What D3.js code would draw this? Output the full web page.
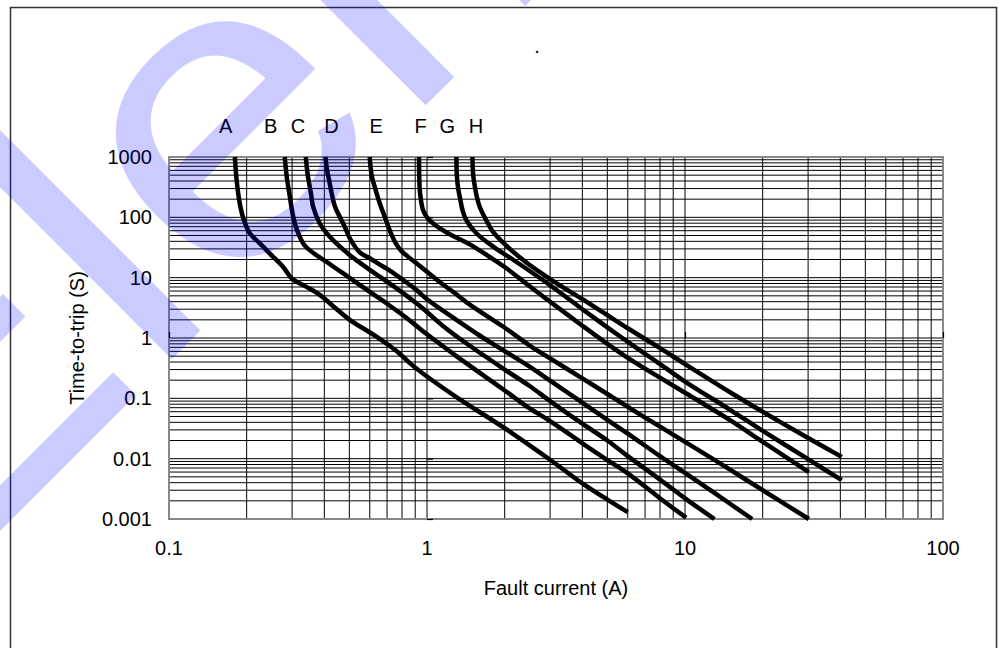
<!DOCTYPE html>
<html>
<head>
<meta charset="utf-8">
<script src="https://cdnjs.cloudflare.com/ajax/libs/d3/7.8.5/d3.min.js"></script>
<style>
  html, body { margin: 0; padding: 0; background: #fff; }
  svg { display: block; font-family: "Liberation Sans", Arial, sans-serif; }
</style>
</head>
<body>
<div id="chart"></div>
<script>
// curve names and [current (A), time (s)] readings
const curveNames = ['A', 'B', 'C', 'D', 'E', 'F', 'G', 'H'];

const curveA = [[0.180, 1000], [0.183, 400], [0.188, 171], [0.195, 90], [0.206, 54], [0.225, 37],
  [0.246, 25], [0.277, 15], [0.300, 9.6], [0.340, 7.1], [0.384, 5.2], [0.432, 3.4], [0.502, 2.0],
  [0.637, 1.05], [0.78, 0.56], [0.86, 0.38], [1.0, 0.23], [1.3, 0.105], [2.0, 0.032], [3.0, 0.0096],
  [4.0, 0.0039], [5.0, 0.0021], [6.0, 0.0013]];
const curveB = [[0.281, 1000], [0.286, 470], [0.294, 220], [0.303, 102], [0.317, 54], [0.338, 33],
  [0.41, 18], [0.5, 10], [0.6, 5.8], [0.7, 3.7], [0.8, 2.45], [0.9, 1.65], [1.0, 1.15],
  [1.3, 0.5], [2.0, 0.135], [2.5, 0.068], [3.0, 0.042], [4.0, 0.018], [5.0, 0.0095],
  [6.0, 0.0057], [7.9, 0.0023], [10.1, 0.00105]];
const curveC = [[0.339, 1000], [0.345, 500], [0.355, 250], [0.362, 150], [0.384, 79], [0.42, 47.7],
  [0.5, 24], [0.6, 13.5], [0.7, 8.6], [0.8, 5.7], [0.9, 3.9], [1.0, 2.7], [1.15, 1.6], [1.46, 0.75],
  [2.0, 0.3], [2.5, 0.16], [3.0, 0.09], [4.0, 0.038], [5.0, 0.02], [6.0, 0.011], [8.0, 0.0045],
  [10, 0.0022], [13, 0.001]];
const curveD = [[0.404, 1000], [0.41, 600], [0.418, 400], [0.427, 250], [0.44, 150], [0.459, 102],
  [0.48, 70], [0.502, 45], [0.55, 26], [0.6, 21], [0.656, 16.5], [0.72, 13], [0.807, 9.2], [0.9, 6.5],
  [1.0, 4.4], [1.3, 2.0], [1.6, 1.1], [1.97, 0.63], [2.5, 0.334], [3, 0.196], [4, 0.085], [5, 0.044],
  [6, 0.026], [8, 0.011], [10, 0.0058], [13, 0.0027], [18.2, 0.001]];
const curveE = [[0.600, 1000], [0.61, 500], [0.63, 300], [0.656, 171], [0.69, 95], [0.72, 58],
  [0.76, 36], [0.8, 27], [0.9, 18], [1.0, 12.5], [1.15, 7.8], [1.3, 5.3], [1.46, 3.6],
  [1.97, 1.55], [2.5, 0.75], [3.0, 0.46], [4.0, 0.214], [5.0, 0.118], [7.0, 0.048], [10, 0.019],
  [15, 0.0065], [20, 0.003], [30.2, 0.001]];
const curveF = [[0.931, 1000], [0.934, 400], [0.94, 250], [0.965, 132], [1.0, 100], [1.06, 78],
  [1.2, 55], [1.46, 36], [1.75, 22], [2.0, 15], [2.5, 7.2], [3.0, 4.0], [4.0, 1.6], [5.0, 0.8],
  [6.0, 0.47], [8.0, 0.22], [10, 0.124], [15, 0.043], [20, 0.019], [30.2, 0.006]];
const curveG = [[1.30, 1000], [1.305, 500], [1.318, 320], [1.345, 200], [1.378, 125], [1.42, 90],
  [1.55, 55], [1.8, 33], [2.15, 20], [3.0, 7.5], [4.0, 3.0], [5.0, 1.5], [6.5, 0.68], [8.0, 0.37],
  [10, 0.19], [15, 0.064], [20, 0.029], [30, 0.0098], [40.5, 0.0044]];
const curveH = [[1.50, 1000], [1.51, 500], [1.53, 340], [1.56, 220], [1.6, 150], [1.7, 88],
  [1.8, 58], [2.0, 36], [2.42, 18], [3.0, 9.5], [4.0, 4.4], [5.0, 2.4], [6.0, 1.45], [8.0, 0.68],
  [10, 0.37], [15, 0.125], [20, 0.06], [30, 0.022], [40.5, 0.0107]];

const seriesList = [curveA, curveB, curveC, curveD, curveE, curveF, curveG, curveH];
// current at which each letter sits above the plot
const labelCurrent = [0.166, 0.248, 0.316, 0.426, 0.636, 0.944, 1.199, 1.549];

const xTickValues = [0.1, 1, 10, 100];
const xTickLabels = ['0.1', '1', '10', '100'];
const yTickValues = [0.001, 0.01, 0.1, 1, 10, 100, 1000];
const yTickLabels = ['0.001', '0.01', '0.1', '1', '10', '100', '1000'];
const xTitle = 'Fault current (A)';
const yTitle = 'Time-to-trip (S)';
const watermarkText = 'Element';

const width = 999, height = 648;
const margin = { top: 157, right: 56, bottom: 129, left: 169 };
const plotW = width - margin.left - margin.right;
const plotH = height - margin.top - margin.bottom;

const svg = d3.select('#chart')
  .append('svg')
  .attr('width', width)
  .attr('height', height);

const x = d3.scaleLog().domain([0.1, 100]).range([margin.left, margin.left + plotW]);
const y = d3.scaleLog().domain([0.001, 1000]).range([margin.top + plotH, margin.top]);

// outer frame
svg.append('rect')
  .attr('x', 10.5).attr('y', 7.5)
  .attr('width', 986).attr('height', 660)
  .attr('fill', 'none')
  .attr('stroke', '#333')
  .attr('stroke-width', 1.5);

// grid
const grid = svg.append('g').attr('stroke', '#000').attr('stroke-width', 1);
grid.selectAll('.vx')
  .data(x.ticks())
  .enter().append('line')
  .attr('x1', d => x(d)).attr('x2', d => x(d))
  .attr('y1', margin.top).attr('y2', margin.top + plotH);
grid.selectAll('.hy')
  .data(y.ticks())
  .enter().append('line')
  .attr('x1', margin.left).attr('x2', margin.left + plotW)
  .attr('y1', d => y(d)).attr('y2', d => y(d));

svg.append('rect')
  .attr('x', margin.left).attr('y', margin.top)
  .attr('width', plotW).attr('height', plotH)
  .attr('fill', 'none')
  .attr('stroke', '#888')
  .attr('stroke-width', 2);

// axes cross at 1 A and 1 s, ticks only
const yAxis = svg.append('g')
  .attr('transform', `translate(${x(1)},0)`)
  .call(d3.axisRight(y).tickValues(yTickValues).tickSize(6).tickFormat(''));
const xAxis = svg.append('g')
  .attr('transform', `translate(0,${y(1)})`)
  .call(d3.axisTop(x).tickValues(xTickValues).tickSize(6).tickFormat(''));
[xAxis, yAxis].forEach(a => {
  a.select('.domain').remove();
  a.selectAll('line').attr('stroke', '#000').attr('stroke-width', 1.2);
});

// tick labels
svg.append('g')
  .selectAll('text')
  .data(xTickValues)
  .enter().append('text')
  .attr('x', d => x(d))
  .attr('y', 555)
  .attr('text-anchor', 'middle')
  .attr('font-size', '20px')
  .attr('fill', '#000')
  .text((d, i) => xTickLabels[i]);

svg.append('g')
  .selectAll('text')
  .data(yTickValues)
  .enter().append('text')
  .attr('x', 152)
  .attr('y', d => y(d) + 7)
  .attr('text-anchor', 'end')
  .attr('font-size', '20px')
  .attr('fill', '#000')
  .text((d, i) => yTickLabels[i]);

// axis titles
svg.append('text')
  .attr('x', margin.left + plotW / 2)
  .attr('y', 595)
  .attr('text-anchor', 'middle')
  .attr('font-size', '20px')
  .text(xTitle);

svg.append('text')
  .attr('transform', `translate(84,${margin.top + plotH / 2}) rotate(-90)`)
  .attr('text-anchor', 'middle')
  .attr('font-size', '20px')
  .text(yTitle);

svg.append('text')
  .attr('x', 537).attr('y', 53)
  .attr('text-anchor', 'middle')
  .attr('font-size', '20px')
  .text('.');

// curves
const line = d3.line()
  .x(d => x(d[0]))
  .y(d => y(d[1]))
  .curve(d3.curveCatmullRom.alpha(0.5));

svg.append('g')
  .selectAll('path')
  .data(seriesList)
  .enter().append('path')
  .attr('d', line)
  .attr('fill', 'none')
  .attr('stroke', '#000')
  .attr('stroke-width', 4.5)
  .attr('stroke-linejoin', 'round');

// curve letters
svg.append('g')
  .selectAll('text')
  .data(curveNames)
  .enter().append('text')
  .attr('x', (d, i) => x(labelCurrent[i]))
  .attr('y', 133)
  .attr('text-anchor', 'middle')
  .attr('font-size', '20px')
  .text(d => d);

// watermark over everything
svg.append('g')
  .attr('opacity', 0.2)
  .append('text')
  .attr('transform', 'translate(-67,598) rotate(-45) scale(1,0.92)')
  .attr('font-size', '460px')
  .attr('fill', '#00f')
  .text(watermarkText);
</script>
</body>
</html>
